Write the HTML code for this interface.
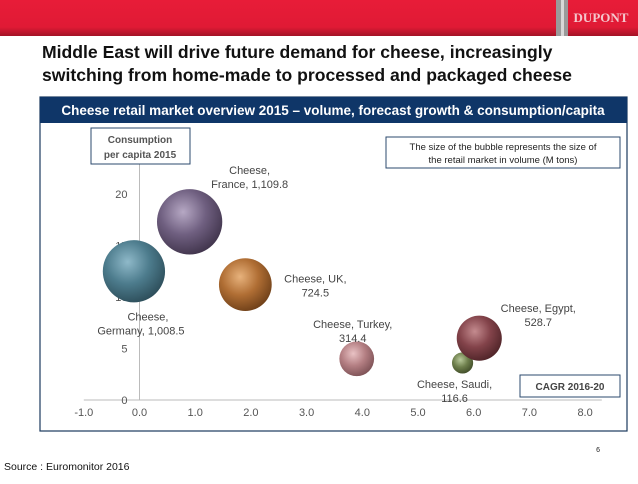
<!DOCTYPE html>
<html><head><meta charset="utf-8"><style>
body{margin:0;width:638px;height:479px;overflow:hidden;background:#fff;font-family:"Liberation Sans",sans-serif;}
</style></head><body>
<svg width="638" height="479" viewBox="0 0 638 479" xmlns="http://www.w3.org/2000/svg">
<defs>
<linearGradient id="red" x1="0" y1="0" x2="0" y2="1"><stop offset="0" stop-color="#e81c38"/><stop offset="0.75" stop-color="#e01a35"/><stop offset="1" stop-color="#a31326"/></linearGradient>
<radialGradient id="g0" cx="0.4" cy="0.35" r="0.7"><stop offset="0" stop-color="#8fb9c9"/><stop offset="0.5" stop-color="#4d7c8d"/><stop offset="1" stop-color="#2b4b57"/></radialGradient>
<radialGradient id="g1" cx="0.4" cy="0.35" r="0.7"><stop offset="0" stop-color="#b6a8c4"/><stop offset="0.5" stop-color="#6f5f80"/><stop offset="1" stop-color="#3e3249"/></radialGradient>
<radialGradient id="g2" cx="0.4" cy="0.35" r="0.7"><stop offset="0" stop-color="#e7b27c"/><stop offset="0.5" stop-color="#b06e34"/><stop offset="1" stop-color="#6b3d17"/></radialGradient>
<radialGradient id="g3" cx="0.4" cy="0.35" r="0.7"><stop offset="0" stop-color="#e9c2c4"/><stop offset="0.5" stop-color="#b47f83"/><stop offset="1" stop-color="#7a4f53"/></radialGradient>
<radialGradient id="g4" cx="0.4" cy="0.35" r="0.7"><stop offset="0" stop-color="#b8c99a"/><stop offset="0.5" stop-color="#6e7f4c"/><stop offset="1" stop-color="#3e4a27"/></radialGradient>
<radialGradient id="g5" cx="0.4" cy="0.35" r="0.7"><stop offset="0" stop-color="#c48b8f"/><stop offset="0.5" stop-color="#83434a"/><stop offset="1" stop-color="#4c2226"/></radialGradient>
</defs>
<rect x="0" y="0" width="638" height="36" fill="url(#red)"/>
<rect x="556" y="0" width="12" height="36" fill="#9a9a9a"/>
<rect x="561" y="0" width="3" height="36" fill="#d8d8d8"/>
<text x="601" y="22" font-size="13" font-weight="bold" fill="#f4c6cc" text-anchor="middle" font-family="Liberation Serif,serif">DUPONT</text>
<text x="42" y="58" font-size="17.6" font-weight="bold" fill="#111">Middle East will drive future demand for cheese, increasingly</text>
<text x="42" y="81" font-size="17.6" font-weight="bold" fill="#111">switching from home-made to processed and packaged cheese</text>
<rect x="40" y="97" width="587" height="334" fill="#fff" stroke="#1c3a5e" stroke-width="1.2"/>
<rect x="40" y="97" width="587" height="26" fill="#0f3668"/>
<text x="333" y="115" font-size="13.5" font-weight="bold" fill="#fff" text-anchor="middle">Cheese retail market overview 2015 – volume, forecast growth &amp; consumption/capita</text>
<g id="chart"></g>
<rect x="91" y="128" width="99" height="36" fill="#fff" stroke="#2b4a6e"/>
<text x="140" y="143" font-size="10" font-weight="bold" fill="#555" text-anchor="middle">Consumption</text>
<text x="140" y="158" font-size="10" font-weight="bold" fill="#555" text-anchor="middle">per capita 2015</text>
<rect x="386" y="137" width="234" height="31" fill="#fff" stroke="#2b4a6e"/>
<text x="503" y="150" font-size="9.5" fill="#222" text-anchor="middle">The size of the bubble represents the size of</text>
<text x="503" y="163" font-size="9.5" fill="#222" text-anchor="middle">the retail market in volume (M tons)</text>
<rect x="520" y="375" width="100" height="22" fill="#fff" stroke="#2b4a6e"/>
<text x="570" y="390" font-size="10" font-weight="bold" fill="#444" text-anchor="middle">CAGR 2016-20</text>
<text x="600" y="452" font-size="7" fill="#222" text-anchor="end">6</text>
<text x="4" y="470" font-size="10.5" fill="#111">Source : Euromonitor 2016</text>
</svg>
<script>
const countries=["Germany","France","UK","Turkey","Saudi","Egypt"];
const cagr=[-0.1,0.9,1.9,3.9,5.8,6.1];
const consumption=[12.5,17.3,11.2,4.0,3.6,6.0];
const volume=[1008.5,1109.8,724.5,314.4,116.6,528.7];
const volumeLabels=["1,008.5","1,109.8","724.5","314.4","116.6","528.7"];
const xTicks=[-1,0,1,2,3,4,5,6,7,8];
const yTicks=[0,5,10,15,20];
const NS="http://www.w3.org/2000/svg";
const g=document.getElementById('chart');
const xs=v=>139.5+v*55.7;
const ys=v=>400-v*10.3;
const rs=v=>Math.sqrt(v)*0.98;
function el(t,a,txt){const e=document.createElementNS(NS,t);for(const k in a)e.setAttribute(k,a[k]);if(txt!=null)e.textContent=txt;g.appendChild(e);return e;}
let ax=el('line',{x1:xs(-1),x2:xs(8.3),y1:ys(0),y2:ys(0),stroke:'#bbb'});


let ay=el('line',{x1:xs(0),x2:xs(0),y1:ys(0),y2:164,stroke:'#bbb'});


xTicks.forEach(t=>{const e=el('text',{x:xs(t),y:ys(0)+16,'font-size':11,fill:'#555','text-anchor':'middle'},t.toFixed(1));

});
yTicks.forEach(t=>{const e=el('text',{x:xs(0)-12,y:ys(t)+4,'font-size':11,fill:'#555','text-anchor':'end'},t);

});
const offs=[[14,49],[60,-48],[70,-2],[-4,-31],[-8,25],[59,-26]];
countries.forEach((c,i)=>{
 const cx=xs(cagr[i]),cy=ys(consumption[i]),r=rs(volume[i]);
 const b=el('circle',{cx:cx,cy:cy,r:r,fill:'url(#g'+i+')'});
 
 
 const lx=cx+offs[i][0], ly=cy+offs[i][1];
 const t1=el('text',{x:lx,y:ly,'font-size':11,fill:'#444','text-anchor':'middle'},'Cheese,'+(i>=2?' '+c+',':''));
 
 
 el('text',{x:lx+(i==0?-7:0),y:ly+14,'font-size':11,fill:'#444','text-anchor':'middle'},(i<2?c+', ':'')+volumeLabels[i]);
});
</script>
</body></html>
